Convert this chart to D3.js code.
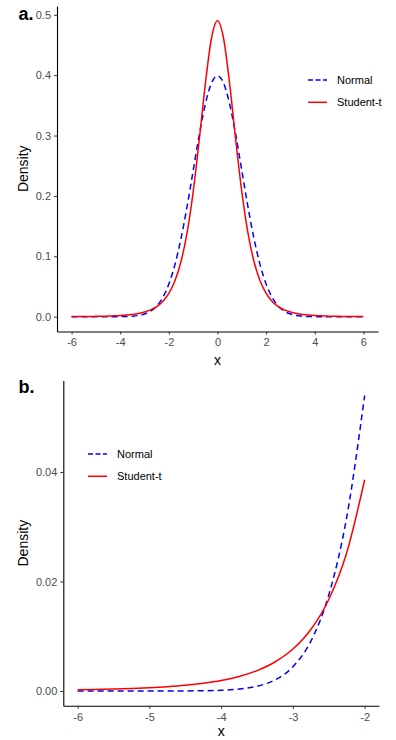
<!DOCTYPE html>
<html>
<head>
<meta charset="utf-8">
<style>
  body { margin: 0; background: #fff; }
  svg { display: block; font-family: "Liberation Sans", Arial, sans-serif; }
  .axis text { fill: #4d4d4d; font-size: 11px; }
  .axis .tick line { stroke: #333; }
  .axis .domain { stroke: #000; stroke-width: 1.1; }
</style>
</head>
<body>
<svg width="396" height="740"></svg>
<script src="https://d3js.org/d3.v7.min.js"></script>
<script>
// grid of x values (step 0.25)
const xs = [-6, -5.75, -5.5, -5.25, -5, -4.75, -4.5, -4.25, -4, -3.75, -3.5, -3.25, -3,
  -2.75, -2.5, -2.25, -2, -1.75, -1.5, -1.25, -1, -0.75, -0.5, -0.25, 0,
  0.25, 0.5, 0.75, 1, 1.25, 1.5, 1.75, 2, 2.25, 2.5, 2.75, 3, 3.25, 3.5, 3.75, 4,
  4.25, 4.5, 4.75, 5, 5.25, 5.5, 5.75, 6];

const normal = [0, 0, 0, 0, 0, 0.00001, 0.00002, 0.00005, 0.00013, 0.00035, 0.00087, 0.00203, 0.00443,
  0.00909, 0.01753, 0.03174, 0.05399, 0.08628, 0.12952, 0.18265, 0.24197, 0.30114, 0.35207, 0.38667, 0.39894,
  0.38667, 0.35207, 0.30114, 0.24197, 0.18265, 0.12952, 0.08628, 0.05399, 0.03174, 0.01753, 0.00909, 0.00443,
  0.00203, 0.00087, 0.00035, 0.00013, 0.00005, 0.00002, 0.00001, 0, 0, 0, 0, 0];

const studentT = [0.00022, 0.00028, 0.00036, 0.00046, 0.00060, 0.00079, 0.00105, 0.00142, 0.00193, 0.00266, 0.00373, 0.00530, 0.00766,
  0.01123, 0.01672, 0.02525, 0.03858, 0.05938, 0.09144, 0.13932, 0.20675, 0.29266, 0.38545, 0.46068, 0.49007,
  0.46068, 0.38545, 0.29266, 0.20675, 0.13932, 0.09144, 0.05938, 0.03858, 0.02525, 0.01672, 0.01123, 0.00766,
  0.00530, 0.00373, 0.00266, 0.00193, 0.00142, 0.00105, 0.00079, 0.00060, 0.00046, 0.00036, 0.00028, 0.00022];

const seriesNames = ["Normal", "Student-t"];
const ticksA_x = [-6, -4, -2, 0, 2, 4, 6];
const ticksA_y = [0, 0.1, 0.2, 0.3, 0.4, 0.5];
const ticksB_x = [-6, -5, -4, -3, -2];
const ticksB_y = [0, 0.02, 0.04];

const svg = d3.select("svg");

const styles = [
  { color: "#0000ff", dash: "6,4", keyDash: "5,2.5" },
  { color: "#ff0000", dash: null, keyDash: null }
];

function panel(opt) {
  const pts = xs.map((x, i) => ({ x, n: normal[i], t: studentT[i] })).filter(d => d.x >= opt.xmin && d.x <= opt.xmax);

  const x = d3.scaleLinear().domain(opt.xdom).range([opt.left, opt.right]);
  const y = d3.scaleLinear().domain(opt.ydom).range([opt.bottom, opt.top]);

  const g = svg.append("g");

  g.append("g").attr("class", "axis")
    .attr("transform", `translate(0,${opt.bottom})`)
    .call(d3.axisBottom(x).tickValues(opt.xticks).tickSize(3).tickSizeOuter(0).tickPadding(4)
      .tickFormat(d => String(d)));

  g.append("g").attr("class", "axis")
    .attr("transform", `translate(${opt.left},0)`)
    .call(d3.axisLeft(y).tickValues(opt.yticks).tickSize(3).tickSizeOuter(0).tickPadding(3)
      .tickFormat(d3.format(opt.yfmt)));

  const keys = ["n", "t"];
  keys.forEach((k, i) => {
    const line = d3.line().x(d => x(d.x)).y(d => y(d[k])).curve(d3.curveMonotoneX);
    g.append("path")
      .datum(pts)
      .attr("d", line)
      .attr("fill", "none")
      .attr("stroke", styles[i].color)
      .attr("stroke-width", 1.5)
      .attr("stroke-dasharray", styles[i].dash);
  });

  // axis titles
  g.append("text")
    .attr("x", (opt.left + opt.right) / 2)
    .attr("y", opt.bottom + opt.xlabOff)
    .attr("text-anchor", "middle")
    .style("font-size", "14px")
    .text("x");

  g.append("text")
    .attr("transform", `translate(28,${(opt.top + opt.bottom) / 2}) rotate(-90)`)
    .attr("text-anchor", "middle")
    .style("font-size", "14px")
    .text("Density");

  // panel tag
  g.append("text")
    .attr("x", 18.5)
    .attr("y", opt.tagY)
    .style("font-size", "18px")
    .style("font-weight", "bold")
    .text(opt.tag);

  // legend
  const lg = g.append("g").attr("transform", `translate(${opt.legX},${opt.legY})`);
  seriesNames.forEach((name, i) => {
    const row = lg.append("g").attr("transform", `translate(0,${i * 22.3})`);
    row.append("line")
      .attr("x1", 0).attr("x2", 19)
      .attr("stroke", styles[i].color)
      .attr("stroke-width", 1.5)
      .attr("stroke-dasharray", styles[i].keyDash);
    row.append("text")
      .attr("x", 29).attr("y", 4)
      .style("font-size", "11px")
      .attr("fill", "#000")
      .text(name);
  });
}

panel({
  xmin: -6, xmax: 6,
  xdom: [-6.6, 6.6], ydom: [-0.0245, 0.5145],
  left: 57, right: 378, top: 6, bottom: 331.5,
  xticks: ticksA_x, yticks: ticksA_y, yfmt: ".1f",
  tag: "a.", tagY: 19.5, xlabOff: 33.5,
  legX: 308, legY: 80
});

panel({
  xmin: -6, xmax: -2,
  xdom: [-6.2, -1.8], ydom: [-0.0027, 0.0567],
  left: 63.3, right: 379, top: 380.5, bottom: 705.8,
  xticks: ticksB_x, yticks: ticksB_y, yfmt: ".2f",
  tag: "b.", tagY: 393, xlabOff: 30,
  legX: 88, legY: 454
});
</script>
</body>
</html>
